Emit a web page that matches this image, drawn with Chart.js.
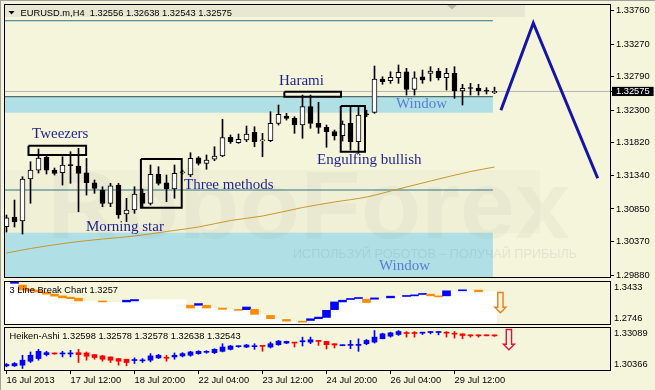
<!DOCTYPE html>
<html><head><meta charset="utf-8">
<script src="https://cdn.jsdelivr.net/npm/chart.js@4.4.0/dist/chart.umd.min.js"></script>
<style>
html,body{margin:0;padding:0;background:#F5F5DC;}
#wrap{position:relative;width:655px;height:390px;overflow:hidden;background:#F5F5DC;}
canvas{position:absolute;left:0;}
#frameT{position:absolute;left:0;top:0;width:655px;height:1px;background:#A0A0A0}
#frameL{position:absolute;left:0;top:0;width:1px;height:390px;background:#A0A0A0}
</style></head><body>
<div id="wrap">
<canvas id="c1" width="655" height="280" style="top:0px"></canvas>
<canvas id="c2" width="655" height="48" style="top:278px"></canvas>
<canvas id="c3" width="655" height="66" style="top:324px"></canvas>
<div id="frameT"></div><div id="frameL"></div>
</div>
<script>
// ---------- DATA (EURUSD.m, H4, 16 Jul 2013 04:00 ... ) ----------
const candleOpen = [1.30589,1.30731,1.30673,1.31289,1.31421,1.31612,1.31421,1.31382,1.31490,1.31480,
1.31382,1.31235,1.31128,1.30933,1.31201,1.30776,1.30834,1.31079,1.30933,1.31358,
1.31235,1.31143,1.31380,1.31348,1.31602,1.31520,1.31579,1.31627,1.31901,1.31822,
1.31862,1.31975,1.31850,1.31852,1.32107,1.32214,1.32180,1.32082,1.32351,1.32107,
1.32048,1.31984,1.31925,1.32107,1.31837,1.32240,1.32268,1.32757,1.32732,1.32776,
1.32864,1.32606,1.32791,1.32841,1.32875,1.32776,1.32841,1.32581,1.32625,1.32621,
1.32585,1.32556];
const candleHigh = [1.30761,1.30981,1.31323,1.31543,1.31730,1.31627,1.31451,1.31617,1.31690,1.31740,
1.31593,1.31275,1.31176,1.31226,1.31226,1.31006,1.31176,1.31143,1.31495,1.31470,
1.31348,1.31495,1.31421,1.31675,1.31617,1.31642,1.31763,1.32166,1.31935,1.31950,
1.32067,1.32057,1.31960,1.32277,1.32376,1.32254,1.32204,1.32522,1.32522,1.32415,
1.32082,1.32009,1.32141,1.32351,1.32351,1.32300,1.32948,1.32791,1.32864,1.32963,
1.32914,1.32864,1.32889,1.32938,1.32914,1.32914,1.32938,1.32680,1.32694,1.32680,
1.32630,1.32638];
const candleLow = [1.30511,1.30585,1.30482,1.30933,1.31377,1.31363,1.31348,1.31201,1.31226,1.30809,
1.31054,1.31079,1.30883,1.30883,1.30712,1.30662,1.30786,1.30883,1.30908,1.31201,
1.30956,1.31006,1.31363,1.31323,1.31495,1.31432,1.31558,1.31617,1.31813,1.31813,
1.31837,1.31763,1.31617,1.31837,1.32082,1.32155,1.31960,1.31887,1.32034,1.31960,
1.31755,1.31862,1.31847,1.31715,1.31667,1.32204,1.32254,1.32680,1.32694,1.32694,
1.32522,1.32522,1.32694,1.32728,1.32743,1.32596,1.32474,1.32376,1.32522,1.32522,
1.32537,1.32543];
const candleClose = [1.30721,1.30658,1.31289,1.31421,1.31598,1.31421,1.31373,1.31495,1.31485,1.31373,
1.31235,1.31153,1.30933,1.31191,1.30761,1.30834,1.31069,1.30933,1.31358,1.31226,
1.31143,1.31373,1.31385,1.31593,1.31520,1.31568,1.31627,1.31896,1.31837,1.31872,
1.31950,1.31837,1.31855,1.32107,1.32239,1.32180,1.32082,1.32351,1.32107,1.32048,
1.31984,1.31925,1.32097,1.31837,1.32229,1.32230,1.32757,1.32718,1.32782,1.32856,
1.32606,1.32776,1.32743,1.32875,1.32776,1.32841,1.32581,1.32621,1.32618,1.32581,
1.32578,1.32575];

// moving average (read at selected candles)
const maIdx = [0,3,8,12,16,20,24,28,32,37,41,45,49,53,58,61];
const maVal = [1.30203,1.30269,1.30357,1.30408,1.30452,1.30519,1.30585,1.30680,1.30746,1.30871,1.30952,1.31025,1.31143,1.31260,1.31399,1.31465];

// forecast zigzag
const zzIdx = [61.8, 65.85, 73.9];
const zzVal = [1.3230, 1.3358, 1.3130];

// levels
const currentPrice = 1.32575;
const resistanceLevel = 1.33613;
const supportLevel = 1.31128;
const windowUpperTop = 1.32498, windowUpperBottom = 1.32263;
const windowLowerTop = 1.30501;
const levelEndIdx = 60.8;

// pattern boxes (index range, price range)
const boxStart = [2.75, 16.8, 34.73, 41.78];
const boxEnd   = [9.95, 21.9, 41.81, 44.81];
const boxHigh  = [1.31778, 1.31583, 1.32571, 1.32361];
const boxLow   = [1.31642, 1.30868, 1.32498, 1.31690];

// price axis ticks
const mainTicks = [1.33760,1.33270,1.32790,1.32300,1.31820,1.31340,1.30850,1.30370,1.29880];
const xTickIdx = [0,8,16,24,32,40,48,56];
const xTickLabels = ['16 Jul 2013','17 Jul 12:00','18 Jul 20:00','22 Jul 04:00','23 Jul 12:00','24 Jul 20:00','26 Jul 04:00','29 Jul 12:00'];

// 3 Line Break
const lbIdx  = [1,2,3,4,5,6,7,8,9,12,15,16,23,24,25,27,29,30,31,33,35,37,38,39,40,41,42,43,44,45,46,48,50,51,52,53,54,55,57,59];
const lbHigh = [1.34280,1.33833,1.33171,1.33006,1.32675,1.32344,1.32062,1.31847,1.31681,1.31234,1.31350,1.31466,1.30523,1.30804,1.30523,1.30076,1.29860,1.30241,1.29860,1.28867,1.28205,1.27923,1.28321,1.28586,1.29695,1.31069,1.31350,1.31632,1.31731,1.31516,1.31731,1.32012,1.32095,1.32228,1.32459,1.32344,1.32062,1.32890,1.33006,1.33006];
const lbLow  = [1.34115,1.33006,1.32840,1.32675,1.32344,1.32012,1.31731,1.31599,1.31234,1.31069,1.31069,1.31234,1.30076,1.30523,1.30076,1.29860,1.29695,1.29811,1.29033,1.28321,1.27923,1.27758,1.28039,1.28321,1.28536,1.29811,1.31069,1.31466,1.31632,1.30970,1.31516,1.31731,1.31963,1.32062,1.32294,1.32062,1.31897,1.32062,1.32890,1.32724];
const lbUp   = [1,0,0,0,0,0,0,0,0,0,1,1,0,1,0,0,0,1,0,0,0,0,1,1,1,1,1,1,1,0,1,1,1,1,1,0,0,1,1,0];
const lbMax = 1.3433, lbMin = 1.2746;

// Heiken-Ashi
const haOpen = [1.30637,1.30637,1.30680,1.30937,1.31108,1.31364,1.31449,1.31407,1.31407,1.31492,
1.31471,1.31364,1.31278,1.31214,1.31108,1.31065,1.30979,1.30958,1.31001,1.31150,
1.31172,1.31214,1.31278,1.31321,1.31428,1.31514,1.31492,1.31578,1.31706,1.31877,
1.31855,1.31877,1.31920,1.31855,1.32005,1.32112,1.32155,1.32197,1.32176,1.32262,
1.32219,1.32069,1.31941,1.31962,1.31962,1.32069,1.32176,1.32390,1.32561,1.32668,
1.32774,1.32774,1.32753,1.32796,1.32796,1.32796,1.32732,1.32710,1.32625,1.32625,
1.32605,1.32598];
const haHigh = [1.30787,1.30851,1.31321,1.31535,1.31706,1.31578,1.31471,1.31578,1.31642,1.31706,
1.31535,1.31364,1.31321,1.31214,1.31108,1.31065,1.31150,1.31108,1.31428,1.31385,
1.31321,1.31471,1.31492,1.31578,1.31620,1.31620,1.31749,1.32069,1.31962,1.31920,
1.32026,1.32069,1.31920,1.32176,1.32283,1.32240,1.32155,1.32497,1.32497,1.32283,
1.32219,1.32069,1.31984,1.32283,1.32390,1.32347,1.32924,1.32753,1.32817,1.32924,
1.32860,1.32860,1.32817,1.32860,1.32860,1.32860,1.32860,1.32710,1.32646,1.32646,
1.32615,1.32638];
const haLow = [1.30573,1.30595,1.30466,1.30851,1.31001,1.31278,1.31385,1.31214,1.31214,1.30851,
1.31001,1.31065,1.30937,1.30851,1.30680,1.30637,1.30787,1.30851,1.30894,1.31108,
1.30937,1.31065,1.31214,1.31257,1.31385,1.31449,1.31428,1.31535,1.31663,1.31834,
1.31813,1.31706,1.31578,1.31791,1.31962,1.32069,1.31855,1.31920,1.32069,1.31962,
1.31727,1.31791,1.31941,1.31749,1.31578,1.32005,1.32112,1.32390,1.32497,1.32603,
1.32497,1.32497,1.32668,1.32710,1.32646,1.32497,1.32432,1.32390,1.32497,1.32497,
1.32575,1.32543];
const haClose = [1.30723,1.30787,1.31001,1.31321,1.31578,1.31492,1.31407,1.31449,1.31449,1.31364,
1.31257,1.31172,1.31065,1.31001,1.30937,1.30851,1.31022,1.31001,1.31278,1.31321,
1.31129,1.31321,1.31428,1.31535,1.31578,1.31556,1.31706,1.31855,1.31920,1.31920,
1.31984,1.31920,1.31898,1.32069,1.32240,1.32219,1.32112,1.32240,1.32326,1.32219,
1.32005,1.31984,1.31984,1.32005,1.32026,1.32283,1.32497,1.32710,1.32774,1.32860,
1.32732,1.32732,1.32796,1.32838,1.32838,1.32753,1.32689,1.32603,1.32582,1.32582,
1.32585,1.32578];
const haMax = 1.33089, haMin = 1.30366;

// ---------- CHARTS ----------
const X_MIN = -0.1875, X_MAX = 75.4375;
const FONT = '"Liberation Sans", Arial, sans-serif';
const SMALL = 9.3;
Chart.defaults.font.family = FONT;
const fixW = s => { s.width = 45; s.paddingTop = 0; s.paddingBottom = 0; };
const idx = candleOpen.map((_, i) => i);

const frame = {
  id: 'frame',
  afterDraw(chart) {
    const a = chart.chartArea, c = chart.ctx;
    c.save(); c.strokeStyle = '#000'; c.lineWidth = 1;
    c.strokeRect(a.left - 0.5, a.top - 0.5, a.right - a.left + 1, a.bottom - a.top + 1);
    c.restore();
  }
};

const annotations = [
  {text:'Tweezers', x:3.19, y:1.31892, color:'#1F1F8F'},
  {text:'Harami', x:34.06, y:1.32670, color:'#1F1F8F'},
  {text:'Three methods', x:22.19, y:1.31143, color:'#1F1F8F'},
  {text:'Morning star', x:9.94, y:1.30526, color:'#1F1F8F'},
  {text:'Engulfing bullish', x:38.81, y:1.31510, color:'#1F1F8F'},
  {text:'Window', x:48.69, y:1.32332, color:'#5A7CD6'},
  {text:'Window', x:46.56, y:1.29954, color:'#5A7CD6'}
];

const mainDecor = {
  id: 'mainDecor',
  beforeDatasetDraw(chart, args) {
    if (chart.data.datasets[args.index].label !== 'Resistance') return;
    const c = chart.ctx, a = chart.chartArea;
    c.save();
    c.beginPath(); c.rect(a.left, a.top, a.right - a.left, a.bottom - a.top); c.clip();
    c.fillStyle = 'rgba(0,0,0,0.02)'; c.fillRect(5, 170, 535, 63);
    c.font = 'bold 96px ' + FONT; c.textBaseline = 'alphabetic'; c.textAlign = 'left';
    let w = c.measureText('RoboForex').width;
    c.save(); c.translate(47, 238); c.scale(523 / w, 1);
    c.fillStyle = 'rgba(80,80,50,0.045)'; c.fillText('RoboForex', 0, 0); c.restore();
    c.font = '12px ' + FONT;
    const sub = 'ИСПОЛЬЗУЙ РОБОТОВ – ПОЛУЧАЙ ПРИБЫЛЬ';
    w = c.measureText(sub).width;
    c.save(); c.translate(293, 258); c.scale(284 / w, 1);
    c.fillStyle = 'rgba(40,90,110,0.10)'; c.fillText(sub, 0, 0); c.restore();
    c.restore();
  },
  afterDatasetsDraw(chart) {
    const c = chart.ctx, xs = chart.scales.x, ys = chart.scales.y;
    c.save();
    c.font = '15px "Liberation Serif", "Times New Roman", serif';
    c.textBaseline = 'alphabetic'; c.textAlign = 'left';
    annotations.forEach(a => { c.fillStyle = a.color; c.fillText(a.text, xs.getPixelForValue(a.x), ys.getPixelForValue(a.y)); });
    // header strip
    c.fillStyle = '#E8E8D2'; c.fillRect(5, 5, 520, 12);
    c.fillStyle = '#000';
    c.beginPath(); c.moveTo(8.5, 11); c.lineTo(14.5, 11); c.lineTo(11.5, 14.5); c.closePath(); c.fill();
    c.fillStyle = '#B8B8A8';
    c.beginPath(); c.moveTo(447, 5); c.lineTo(457, 5); c.lineTo(452, 9.5); c.closePath(); c.fill();
    c.fillStyle = '#000'; c.font = SMALL + 'px ' + FONT;
    c.fillText('EURUSD.m,H4  1.32556 1.32638 1.32543 1.32575', 20.5, 16.3);
    c.restore();
  }
};

const boxPts = [];
boxStart.forEach((s, k) => {
  boxPts.push({x:s, y:boxHigh[k]}, {x:boxEnd[k], y:boxHigh[k]}, {x:boxEnd[k], y:boxLow[k]}, {x:s, y:boxLow[k]}, {x:s, y:boxHigh[k]}, {x:s, y:null});
});

const lineBase = {type:'line', pointRadius:0, tension:0, fill:false};

new Chart(document.getElementById('c1'), {
  type: 'bar',
  data: { datasets: [
    {...lineBase, label:'WindowUpper', data:[{x:X_MIN,y:windowUpperTop},{x:levelEndIdx,y:windowUpperTop}], fill:{value:windowUpperBottom}, backgroundColor:'#B0E0E6', borderColor:'#2F4F4F', borderWidth:1, order:100},
    {...lineBase, label:'WindowLower', data:[{x:X_MIN,y:windowLowerTop},{x:levelEndIdx,y:windowLowerTop}], fill:'start', backgroundColor:'#B0E0E6', borderColor:'rgba(0,0,0,0)', borderWidth:1, order:99},
    {...lineBase, label:'Resistance', data:[{x:X_MIN,y:resistanceLevel},{x:levelEndIdx,y:resistanceLevel}], borderColor:'#2F7480', borderWidth:1, order:90},
    {...lineBase, label:'Support', data:[{x:X_MIN,y:supportLevel},{x:levelEndIdx,y:supportLevel}], borderColor:'#2F7480', borderWidth:1, order:89},
    {...lineBase, label:'Bid', data:[{x:X_MIN,y:currentPrice},{x:X_MAX,y:currentPrice}], borderColor:'#B4B4B4', borderWidth:1, order:85},
    {...lineBase, label:'MA', data:maIdx.map((x,k)=>({x, y:maVal[k]})), borderColor:'#C8962A', borderWidth:1, cubicInterpolationMode:'monotone', order:80},
    {type:'bar', label:'Wicks', data:idx.map(i=>({x:i, y:[candleLow[i], candleHigh[i]]})), backgroundColor:'#000', barThickness:1, grouped:false, minBarLength:1, order:50},
    {type:'bar', label:'Bodies', data:idx.map(i=>({x:i, y:[candleOpen[i], candleClose[i]]})),
      backgroundColor: ctx => candleClose[ctx.dataIndex] >= candleOpen[ctx.dataIndex] ? '#FFFFFF' : '#000000',
      borderColor:'#000', borderWidth:1, borderSkipped:false, barThickness:5, minBarLength:1, grouped:false, order:40},
    {...lineBase, label:'Patterns', data:boxPts, borderColor:'#000', borderWidth:2, spanGaps:false, borderJoinStyle:'miter', order:30},
    {...lineBase, label:'Forecast', data:zzIdx.map((x,k)=>({x, y:zzVal[k]})), borderColor:'#1414A8', borderWidth:3, order:20}
  ]},
  options: {
    responsive:false, animation:false, events:[],
    layout:{padding:{left:5, right:0, top:5, bottom:3}},
    plugins:{legend:{display:false}, tooltip:{enabled:false}},
    scales:{
      x:{type:'linear', display:false, min:X_MIN, max:X_MAX, offset:false, grid:{offset:false}},
      y:{position:'right', min:1.29851, max:1.33844, beginAtZero:false, afterFit:fixW,
        afterBuildTicks: s => { s.ticks = mainTicks.concat([currentPrice]).map(v => ({value:v})); },
        ticks:{autoSkip:false, padding:2, font:{size:SMALL},
          color: ctx => (ctx.tick && ctx.tick.value === currentPrice) ? '#FFFFFF' : '#000000',
          showLabelBackdrop: ctx => !!(ctx.tick && ctx.tick.value === currentPrice),
          backdropColor:'#000', backdropPadding:{top:-1, bottom:-1, left:4, right:4},
          callback: v => Number(v).toFixed(5)},
        grid:{drawOnChartArea:false, drawTicks:true, tickLength:4, color:'#000'},
        border:{display:false}}
    }
  },
  plugins:[frame, mainDecor]
});

function subY(min, max, dec) {
  return {position:'right', min, max, beginAtZero:false, afterFit:fixW,
    afterBuildTicks: s => { s.ticks = [{value:max},{value:min}]; },
    ticks:{autoSkip:false, padding:4, color:'#000', font:{size:SMALL, lineHeight:1.2},
      callback: v => v === max ? ['', v.toFixed(dec)] : [v.toFixed(dec), '']},
    grid:{display:false, drawTicks:false}, border:{display:false}};
}

function subDecor(title, arrowX, arrowY, arrowColor) {
  return {
    id:'subDecor',
    afterDatasetsDraw(chart) {
      const c = chart.ctx, a = chart.chartArea;
      c.save();
      c.fillStyle = '#000'; c.font = SMALL + 'px ' + FONT; c.textAlign = 'left'; c.textBaseline = 'alphabetic';
      c.fillText(title, 9.5, a.top + 11.2);
      c.font = '29px "DejaVu Sans", sans-serif'; c.textAlign = 'center'; c.textBaseline = 'middle';
      c.fillStyle = arrowColor;
      c.fillText('⇩', chart.scales.x.getPixelForValue(arrowX), chart.scales.y.getPixelForValue(arrowY));
      c.restore();
    }
  };
}

// 3 Line Break panel
const lbLevel = lbIdx.map((x,k) => ({x: x - 0.5, y: lbUp[k] ? lbHigh[k] : lbLow[k]}));
const lbFill = [{x:X_MIN, y:lbLevel[0].y}].concat(lbLevel, [{x:61.3, y:lbLevel[lbLevel.length-1].y}]);
new Chart(document.getElementById('c2'), {
  type:'bar',
  data:{datasets:[
    {...lineBase, label:'LBArea', data:lbFill, stepped:true, fill:'start', backgroundColor:'#FFFFFF', borderColor:'rgba(0,0,0,0)', borderWidth:1, order:10},
    {type:'bar', label:'3 Line Break', data:lbIdx.map((x,k)=>({x, y:[lbLow[k], lbHigh[k]]})),
      backgroundColor: ctx => lbUp[ctx.dataIndex] ? '#0000FF' : '#FF8C00', barThickness:8, grouped:false, minBarLength:1, order:5}
  ]},
  options:{
    responsive:false, animation:false, events:[],
    layout:{padding:{left:5, right:0, top:4, bottom:2}},
    plugins:{legend:{display:false}, tooltip:{enabled:false}},
    scales:{ x:{type:'linear', display:false, min:X_MIN, max:X_MAX, offset:false, grid:{offset:false}}, y:subY(lbMin, lbMax, 4) }
  },
  plugins:[frame, subDecor('3 Line Break Chart 1.3257', 61.75, 1.30486, '#E8801C')]
});

// Heiken-Ashi panel
const haColor = ctx => haClose[ctx.dataIndex] >= haOpen[ctx.dataIndex] ? '#0000FF' : '#FF0000';
new Chart(document.getElementById('c3'), {
  type:'bar',
  data:{datasets:[
    {type:'bar', label:'HA wick', data:idx.map(i=>({x:i, y:[haLow[i], haHigh[i]]})), backgroundColor:haColor, barThickness:1, grouped:false, minBarLength:1, order:10},
    {type:'bar', label:'HA body', data:idx.map(i=>({x:i, y:[haOpen[i], haClose[i]]})), backgroundColor:haColor, barThickness:5, grouped:false, minBarLength:1, order:5}
  ]},
  options:{
    responsive:false, animation:false, events:[],
    layout:{padding:{left:5, right:0, top:4, bottom:0}},
    plugins:{legend:{display:false}, tooltip:{enabled:false}},
    scales:{
      x:{type:'linear', min:X_MIN, max:X_MAX, offset:false,
        afterBuildTicks: s => { s.ticks = xTickIdx.map(v => ({value:v})); },
        afterFit: s => { s.height = 20; s.paddingLeft = 0; s.paddingRight = 0; },
        ticks:{autoSkip:false, maxRotation:0, minRotation:0, align:'start', padding:1, color:'#000', font:{size:SMALL},
          callback: v => xTickLabels[xTickIdx.indexOf(v)]},
        grid:{drawOnChartArea:false, drawTicks:true, tickLength:4, color:'#000', offset:false},
        border:{display:false}},
      y:subY(haMin, haMax, 5)
    }
  },
  plugins:[frame, subDecor('Heiken-Ashi 1.32598 1.32578 1.32578 1.32638 1.32543', 62.8, 1.32149, '#DC143C')]
});
</script>
</body></html>
